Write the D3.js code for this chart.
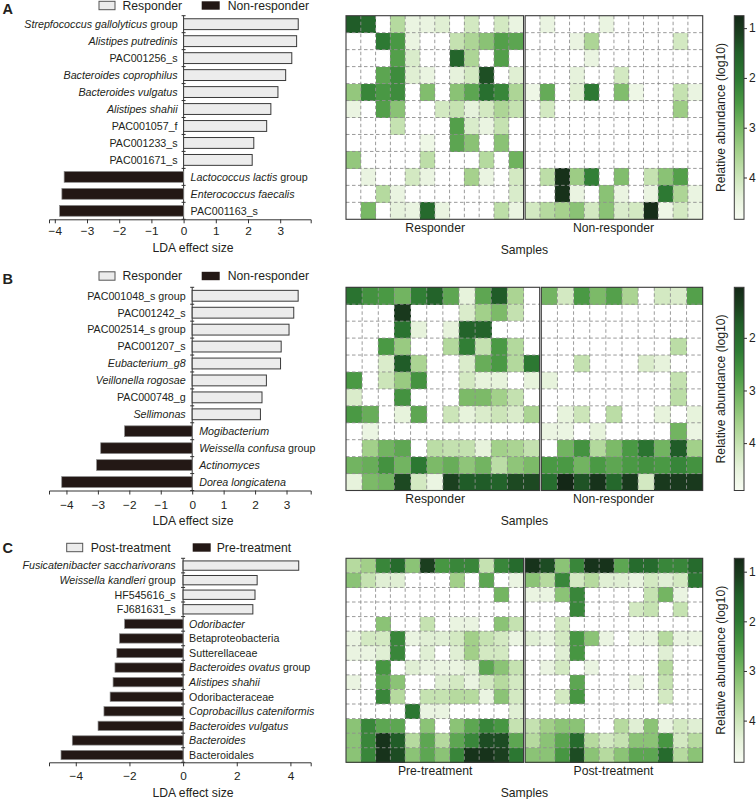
<!DOCTYPE html>
<html><head><meta charset="utf-8">
<script src="https://cdn.jsdelivr.net/npm/d3@7"></script>
<style>
body{margin:0;background:#fff}
svg{display:block}
text{font-family:"Liberation Sans",Arial,Helvetica,sans-serif;fill:#231f20}
</style>
</head><body><svg id="c" width="756" height="799"></svg>
<script>
// ---------------- DATA ----------------
const legendA = ["Responder", "Non-responder"];
const taxaA = ["*Strepfococcus gallolyticus* group","*Alistipes putredinis*","PAC001256_s","*Bacteroides coprophilus*","*Bacteroides vulgatus*","*Alistipes shahii*","PAC001057_f","PAC001233_s","PAC001671_s","*Lactococcus lactis* group","*Enterococcus faecalis*","PAC001163_s"];
const ldaA = [3.56, 3.51, 3.36, 3.17, 2.93, 2.71, 2.58, 2.18, 2.13, -3.71, -3.78, -3.85];
const ldaTicksA = [-4, -3, -2, -1, 0, 1, 2, 3];
const samplesA = ["Responder", "Non-responder"];
const nSamplesA = [12, 12];
const heatA = [
 [1.45,1.7,0,3.7,4.5,4.5,4.3,0,4.1,0,4.1,4.5,   0,4.5,0,0,0,4.5,0,0,0,0,0,0],
 [0,0,2.0,2.5,4.5,0,0,3.9,3.6,3.2,2.6,2.7,     0,0,0,4.5,3.6,0,0,0,0,0,4.1,0],
 [0,0,0,2.6,4.2,0,0,1.6,3.6,0,2.6,0,           0,0,0,0,4.5,0,0,0,0,0,0,0],
 [0,0,2.7,2.3,4.3,4.5,0,4.4,4.1,1.3,0,4.3,     0,0,0,4.4,0,0,4.1,0,0,0,0,0],
 [3.3,2.2,2.5,2.3,0,3.1,0,3.2,2.7,1.8,2.2,3.6, 4.6,2.8,0,4.3,2.0,0,3.1,4.6,0,0,3.9,4.5],
 [4.5,0,2.6,3.2,0,0,4.1,3.9,4.4,4.1,3.6,3.9,   0,4.1,0,0,0,0,0,0,0,0,3.4,0],
 [0,0,0,3.9,0,0,0,2.6,4.2,4.5,3.9,0,           0,0,0,0,0,0,0,0,0,0,0,0],
 [0,0,0,0,0,4.6,0,2.7,3.2,0,3.2,0,             0,0,0,0,0,0,0,0,0,0,0,0],
 [3.3,0,0,0,0,3.8,0,0,0,3.7,0,2.9,             0,0,0,0,0,0,0,0,0,0,0,0],
 [0,4.5,0,0,4.1,4.5,0,0,3.5,4.5,0,4.1,         0,3.8,0.9,3.4,2.1,0,3.1,0,3.9,3.2,2.6,0],
 [0,0,3.7,4.5,0,0,0,0,0,0,0,4.2,               0,0,0.9,4.5,0,3.2,4.5,0,4.5,2.0,3.6,4.5],
 [0,3.0,0,4.4,4.5,1.7,4.5,0,0,0,3.8,4.5,       4.1,3.7,3.5,3.2,4.1,3.2,4.2,4.1,0.85,4.6,4.1,4.5]
];
const cbDomainA = [0.75, 4.84];
const cbTicksA = [1, 2, 3, 4];

const legendB = ["Responder", "Non-responder"];
const taxaB = ["PAC001048_s group","PAC001242_s","PAC002514_s group","PAC001207_s","*Eubacterium_g8*","*Veillonella rogosae*","PAC000748_g","*Sellimonas*","*Mogibacterium*","*Weissella confusa* group","*Actinomyces*","*Dorea longicatena*"];
const ldaB = [3.37, 3.23, 3.08, 2.83, 2.81, 2.36, 2.22, 2.17, -2.15, -2.91, -3.04, -4.15];
const ldaTicksB = [-4, -3, -2, -1, 0, 1, 2, 3];
const samplesB = ["Responder", "Non-responder"];
const nSamplesB = [12, 10];
const heatB = [
 [2.1,2.6,2.7,3.1,2.3,1.8,2.9,4.5,2.9,1.7,3.7,0,   3.1,4.2,2.7,3.2,2.8,3.7,0,4.2,4.3,2.8],
 [0,0,0,1.3,0,0,0,4.3,3.6,3.2,4.0,0,               0,0,0,0,0,0,0,0,0,0],
 [0,0,0,2.1,4.5,0,4.5,1.8,1.8,0,0,0,               0,0,0,0,0,0,0,0,0,0],
 [0,0,2.7,3.5,0,0,3.8,2.3,4.0,2.7,3.8,0,           0,0,0,0,0,0,0,0,3.9,0],
 [0,0,4.3,1.7,3.7,0,0,4.3,3.0,2.7,3.8,2.2,         0,0,4.0,0,0,0,4.3,4.5,0,0],
 [2.7,0,4.1,3.5,2.6,0,0,4.2,4.5,4.5,0,4.5,         4.5,0,0,0,0,0,0,0,4.0,0],
 [4.3,0,0,2.6,0,0,0,3.2,3.2,3.6,4.0,0,             0,0,0,0,0,0,0,0,3.9,0],
 [2.7,3.0,0,4.5,2.9,0,4.1,4.5,4.3,4.1,4.3,3.7,     0,4.5,4.1,0,3.9,0,0,4.5,0,4.5],
 [0,4.6,0,0,0,0,0,0,0,0,0,0,                       4.6,4.6,0,4.5,0,0,0,0,3.1,4.6],
 [0,3.6,3.1,2.9,0,3.9,4.0,4.0,4.5,3.6,3.7,4.0,     0,3.1,2.6,3.8,3.2,2.7,2.1,3.1,1.7,3.6],
 [3.1,3.0,2.6,3.1,2.2,3.2,3.0,3.4,3.1,3.9,3.4,3.2, 2.7,2.7,3.1,2.7,2.9,2.7,2.6,2.7,2.4,2.6],
 [4.5,3.2,3.1,1.5,4.2,4.6,1.4,1.7,1.7,1.8,1.5,1.5, 2.0,0.95,1.6,1.2,1.9,1.3,4.2,1.3,1.3,1.3]
];
const cbDomainB = [1.04, 4.9];
const cbTicksB = [2, 3, 4];

const legendC = ["Post-treatment", "Pre-treatment"];
const taxaC = ["*Fusicatenibacter saccharivorans*","*Weissella kandleri* group","HF545616_s","FJ681631_s","*Odoribacter*","Betaproteobacteria","Sutterellaceae","*Bacteroides ovatus* group","*Alistipes shahii*","Odoribacteraceae","*Coprobacillus cateniformis*","*Bacteroides vulgatus*","*Bacteroides*","Bacteroidales"];
const ldaC = [4.31, 2.76, 2.68, 2.60, -2.18, -2.37, -2.47, -2.54, -2.61, -2.72, -2.95, -3.17, -4.13, -4.55];
const ldaTicksC = [-4, -2, 0, 2, 4];
const samplesC = ["Pre-treatment", "Post-treatment"];
const nSamplesC = [12, 12];
const heatC = [
 [3.7,3.45,2.2,1.7,3.2,1.1,2.45,2.2,2.2,3.9,2.2,1.7,   0.9,1.25,3.2,2.2,0.9,0.9,2.7,1.7,1.7,2.2,2.2,1.7],
 [3.2,3.9,4.3,4.3,0,0,0,3.45,0,2.7,0,4.5,             3.2,3.7,2.2,4.1,3.7,4.3,4.3,4.5,4.1,4.3,4.1,1.95],
 [0,0,0,0,0,0,0,0,0,0,2.95,0,                         4.5,4.5,3.2,2.2,0,0,0,0,3.9,2.95,4.5,0],
 [0,0,0,0,0,0,0,0,0,0,0,0,                            0,0,0,2.2,0,0,0,4.1,3.9,0,3.9,0],
 [0,0,3.2,0,0,3.9,0,4.5,4.5,0,3.2,3.9,                0,0,4.1,0,0,0,0,0,0,0,0,0],
 [4.5,4.1,4.1,2.2,4.5,4.3,4.3,4.1,3.45,3.9,4.1,4.5,   4.3,4.5,4.1,2.45,3.2,4.5,0,4.5,4.5,3.7,4.5,4.5],
 [4.5,4.5,4.3,2.2,0,4.3,0,4.3,3.45,4.1,4.1,0,         0,0,4.3,2.45,0,0,0,0,0,4.3,0,0],
 [0,0,2.45,0,4.3,4.5,4.5,4.5,4.3,2.7,3.2,3.9,         0,4.5,4.1,0,4.5,0,0,0,0,3.7,0,0],
 [4.5,0,2.7,3.2,0,0,4.3,4.1,4.5,4.1,3.7,4.1,          0,0,0,2.7,0,0,0,4.5,0,3.9,0,0],
 [0,0,2.2,3.7,0,3.9,3.9,3.7,3.7,4.5,3.2,4.1,          0,0,4.1,2.45,0,0,0,0,0,4.1,0,0],
 [0,0,0,0,1.95,4.5,4.5,0,0,0,0,4.3,                   0,0,0,0,0,0,0,0,0,0,0,0],
 [3.2,2.2,2.7,2.7,0,3.2,0,3.2,2.7,2.2,2.45,3.9,       3.9,3.45,3.2,3.2,0,0,3.7,4.3,3.2,4.5,4.1,4.3],
 [3.2,2.2,0.9,1.45,3.7,2.7,3.7,2.7,2.2,1.25,1.25,2.7, 3.7,3.2,2.7,1.7,3.7,4.1,3.9,3.2,3.2,2.45,4.1,3.7],
 [3.2,2.2,0.9,1.25,3.2,2.7,3.2,2.2,0.9,0.9,1.1,1.95,  3.2,3.2,2.45,1.25,3.2,3.7,3.2,2.7,2.7,1.7,3.7,3.2]
];
const cbDomainC = [0.73, 4.84];
const cbTicksC = [1, 2, 3, 4];

// ---------------- STYLE / LAYOUT ----------------
const stopT = [0, 0.09, 0.18, 0.31, 0.43, 0.55, 0.67, 0.79, 0.89, 1];
const stopCol = ["#142817","#1b3f1f","#215f29","#2d7a33","#4a9944","#78b865","#a5d18c","#cbe5b8","#e6f2db","#f8fcf3"];
const HX0 = 346, HX1 = 702.7, HGAP = 1.6;
const BX0 = 49, BX1 = 310.7;
const CBX = 734.3, CBW = 9.7;
const FONT = '"Liberation Sans",Arial,Helvetica,sans-serif';

const panels = [
 {letter:"A", legend:legendA, taxa:taxaA, lda:ldaA, ticks:ldaTicksA, samples:samplesA, nS:nSamplesA, heat:heatA, cbDom:cbDomainA, cbTicks:cbTicksA,
  top:15.7, bottom:219.3, zero:183.6, k:32.2, legY:5.5, legX:[99,122.5,201.7,227.7], letterY:13.8, tickOff:15.5, titleOff:32.3, labPos:6, labNeg:7},
 {letter:"B", legend:legendB, taxa:taxaB, lda:ldaB, ticks:ldaTicksB, samples:samplesB, nS:nSamplesB, heat:heatB, cbDom:cbDomainB, cbTicks:cbTicksB,
  top:287.3, bottom:490.5, zero:192.2, k:31.44, legY:276, legX:[99,122.5,201.7,227.7], letterY:283.8, tickOff:18, titleOff:34.3, labPos:6.5, labNeg:7},
 {letter:"C", legend:legendC, taxa:taxaC, lda:ldaC, ticks:ldaTicksC, samples:samplesC, nS:nSamplesC, heat:heatC, cbDom:cbDomainC, cbTicks:cbTicksC,
  top:558.3, bottom:762.3, zero:183.1, k:26.83, legY:547.5, legX:[66.7,90.7,192.7,216.7], letterY:553, tickOff:17.7, titleOff:34.4, labPos:7.4, labNeg:6}
];

const svg = d3.select("#c");
const defs = svg.append("defs");

function addLabel(sel, str) {
  const parts = str.split("*");
  parts.forEach((s, i) => {
    if (!s) return;
    sel.append("tspan").attr("font-style", i % 2 === 1 ? "italic" : "normal").text(s);
  });
}

panels.forEach((p, pi) => {
  const g = svg.append("g");
  const x = d3.scaleLinear()
    .domain([(BX0 - p.zero) / p.k, (BX1 - p.zero) / p.k])
    .range([BX0, BX1]);
  const y = d3.scaleBand().domain(p.taxa).range([p.top, p.bottom]);
  const step = y.step();
  const barH = step * 0.64;
  const x0 = x(0);

  g.append("text").attr("x", 2.5).attr("y", p.letterY).attr("font-size", 14.5)
    .attr("font-weight", "bold").text(p.letter);

  const lg = g.append("g");
  lg.append("rect").attr("x", p.legX[0]).attr("y", p.legY - 4.2).attr("width", 16).attr("height", 8.4)
    .attr("fill", "#ececec").attr("stroke", "#555").attr("stroke-width", 1);
  lg.append("text").attr("x", p.legX[1]).attr("y", p.legY + 4.3).attr("font-size", 12.2).text(p.legend[0]);
  lg.append("rect").attr("x", p.legX[2]).attr("y", p.legY - 4.2).attr("width", 18).attr("height", 8.4)
    .attr("fill", "#231815");
  lg.append("text").attr("x", p.legX[3]).attr("y", p.legY + 4.3).attr("font-size", 12.2).text(p.legend[1]);

  g.append("line").attr("x1", x0).attr("x2", x0).attr("y1", p.top).attr("y2", p.bottom)
    .attr("stroke", "#333").attr("stroke-width", 1);
  const bounds = d3.range(p.taxa.length + 1).map(i => p.top + i * step);
  g.selectAll(".rt").data(bounds).join("line")
    .attr("x1", x0 - 2).attr("x2", x0 + 2).attr("y1", d => d).attr("y2", d => d)
    .attr("stroke", "#333").attr("stroke-width", 1);

  g.selectAll(".bar").data(p.taxa).join("rect")
    .attr("x", (d, i) => Math.min(x(0), x(p.lda[i])))
    .attr("width", (d, i) => Math.abs(x(p.lda[i]) - x(0)))
    .attr("y", d => y(d) + (step - barH) / 2)
    .attr("height", barH)
    .attr("fill", (d, i) => p.lda[i] > 0 ? "#ececec" : "#231815")
    .attr("stroke", (d, i) => p.lda[i] > 0 ? "#3a3a3a" : "#8a8a8a")
    .attr("stroke-width", (d, i) => p.lda[i] > 0 ? 1 : 0.7);

  g.selectAll(".lab").data(p.taxa).join("text")
    .attr("x", (d, i) => p.lda[i] > 0 ? x0 - p.labPos : x0 + p.labNeg)
    .attr("y", d => y(d) + step / 2 + 3.8)
    .attr("text-anchor", (d, i) => p.lda[i] > 0 ? "end" : "start")
    .attr("font-size", 10.7)
    .each(function(d) { addLabel(d3.select(this), d); });

  const ax = g.append("g").attr("transform", `translate(0,${p.bottom})`)
    .call(d3.axisBottom(x).tickValues(p.ticks).tickSize(4).tickSizeOuter(4).tickFormat(d3.format("d")));
  ax.attr("font-family", FONT).attr("font-size", 11.8);
  ax.selectAll("path,line").attr("stroke", "#333");
  ax.selectAll("text").attr("dy", null).attr("y", p.tickOff).attr("fill", "#231f20");
  g.append("text").attr("x", 193).attr("y", p.bottom + p.titleOff).attr("text-anchor", "middle")
    .attr("font-size", 12.2).text("LDA effect size");

  // ----- heatmap -----
  const ncol = p.nS[0] + p.nS[1];
  const cw = (HX1 - HX0 - HGAP) / ncol;
  const bandL = d3.scaleBand().domain(d3.range(p.nS[0])).range([HX0, HX0 + p.nS[0] * cw]);
  const bandR = d3.scaleBand().domain(d3.range(p.nS[1])).range([HX1 - p.nS[1] * cw, HX1]);
  const colX = j => j < p.nS[0] ? bandL(j) : bandR(j - p.nS[0]);
  const [dmin, dmax] = p.cbDom;
  const color = d3.scaleLinear().domain(stopT.map(t => dmin + t * (dmax - dmin))).range(stopCol)
    .interpolate(d3.interpolateRgb).clamp(true);

  const cells = [];
  p.heat.forEach((row, i) => row.forEach((v, j) => { if (v > 0) cells.push({i, j, v}); }));
  g.append("g").selectAll("rect").data(cells).join("rect")
    .attr("x", d => colX(d.j)).attr("y", d => y(p.taxa[d.i]))
    .attr("width", cw + 0.3).attr("height", step + 0.3)
    .attr("fill", d => color(d.v)).attr("shape-rendering", "crispEdges");

  const grid = g.append("g").attr("stroke", "#8e8e8e").attr("stroke-width", 0.9).attr("stroke-dasharray", "3.5,2.5");
  [[bandL, p.nS[0]], [bandR, p.nS[1]]].forEach(([b, n]) => {
    const [r0, r1] = b.range();
    for (let j = 1; j < n; j++) {
      grid.append("line").attr("x1", b(j)).attr("x2", b(j)).attr("y1", p.top).attr("y2", p.bottom);
    }
    for (let i = 1; i < p.taxa.length; i++) {
      const yy = p.top + i * step;
      grid.append("line").attr("x1", r0).attr("x2", r1).attr("y1", yy).attr("y2", yy);
    }
    g.append("rect").attr("x", r0).attr("y", p.top).attr("width", r1 - r0).attr("height", p.bottom - p.top)
      .attr("fill", "none").attr("stroke", "#3a3a3a").attr("stroke-width", 1.1);
  });

  const hw = (HX1 - HX0) / 2;
  p.samples.forEach((s, k) => {
    g.append("text").attr("x", HX0 + hw / 2 + k * hw).attr("y", p.bottom + 12.8)
      .attr("text-anchor", "middle").attr("font-size", 12.2).text(s);
  });
  g.append("text").attr("x", (HX0 + HX1) / 2).attr("y", p.bottom + 34.4)
    .attr("text-anchor", "middle").attr("font-size", 12.2).text("Samples");

  const gid = "grad" + pi;
  const grad = defs.append("linearGradient").attr("id", gid).attr("x1", 0).attr("x2", 0).attr("y1", 0).attr("y2", 1);
  stopT.forEach((t, k) => grad.append("stop").attr("offset", t).attr("stop-color", stopCol[k]));
  g.append("rect").attr("x", CBX).attr("y", p.top).attr("width", CBW).attr("height", p.bottom - p.top)
    .attr("fill", `url(#${gid})`).attr("stroke", "#3a3a3a").attr("stroke-width", 1);
  const cy = d3.scaleLinear().domain(p.cbDom).range([p.top, p.bottom]);
  const cax = g.append("g").attr("transform", `translate(${CBX + CBW},0)`)
    .call(d3.axisRight(cy).tickValues(p.cbTicks).tickSize(3).tickPadding(2).tickFormat(d3.format("d")));
  cax.select(".domain").remove();
  cax.attr("font-family", FONT).attr("font-size", 12);
  cax.selectAll("line").attr("stroke", "#333");
  cax.selectAll("text").attr("fill", "#231f20");
  g.append("text").attr("transform", `translate(725,${(p.top + p.bottom) / 2}) rotate(-90)`)
    .attr("text-anchor", "middle").attr("font-size", 12.2).text("Relative abundance (log10)");
});
</script>
</body></html>
